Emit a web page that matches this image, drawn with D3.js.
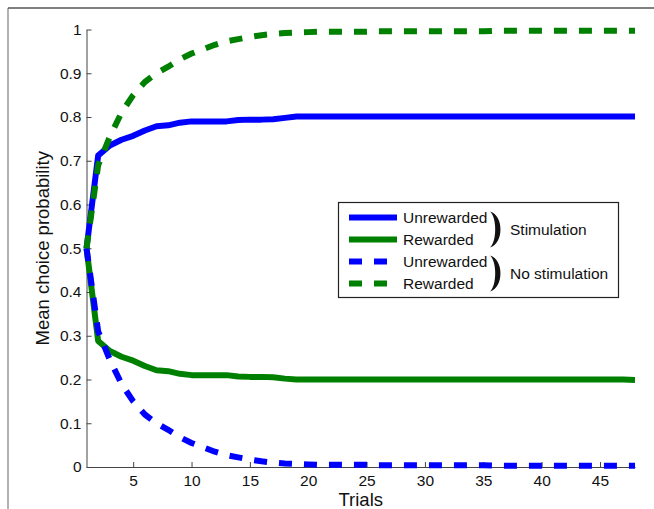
<!DOCTYPE html>
<html>
<head>
<meta charset="utf-8">
<script src="https://cdn.jsdelivr.net/npm/d3@7"></script>
<style>
	body { margin: 0; background: #fff; }
	text { font-family: "Liberation Sans", Arial, sans-serif; }
</style>
</head>
<body>
<div id="chart"></div>
<script>

	///////////////////////////////////////////////////////////////////////////
	//////////////////////////////// The data /////////////////////////////////
	///////////////////////////////////////////////////////////////////////////

	var trials = d3.range(1, 49);

	//Stimulation
	var stimUnrewarded = [0.5, 0.712, 0.735, 0.748, 0.757, 0.769, 0.779, 0.781, 0.787, 0.79,
		0.79, 0.79, 0.79, 0.793, 0.794, 0.794, 0.795, 0.798, 0.801, 0.801,
		0.801, 0.801, 0.801, 0.801, 0.801, 0.801, 0.801, 0.801, 0.801, 0.801,
		0.801, 0.801, 0.801, 0.801, 0.801, 0.801, 0.801, 0.801, 0.801, 0.801,
		0.801, 0.801, 0.801, 0.801, 0.801, 0.801, 0.801, 0.801];
	var stimRewarded = [0.5, 0.288, 0.265, 0.252, 0.243, 0.231, 0.221, 0.219, 0.213, 0.21,
		0.21, 0.21, 0.21, 0.207, 0.206, 0.206, 0.205, 0.202, 0.2, 0.2,
		0.2, 0.2, 0.2, 0.2, 0.2, 0.2, 0.2, 0.2, 0.2, 0.2,
		0.2, 0.2, 0.2, 0.2, 0.2, 0.2, 0.2, 0.2, 0.2, 0.2,
		0.2, 0.2, 0.2, 0.2, 0.2, 0.2, 0.2, 0.199];

	//No stimulation
	var noStimUnrewarded = [0.5, 0.31, 0.245, 0.19, 0.15, 0.12, 0.1, 0.085, 0.068, 0.055,
		0.045, 0.035, 0.027, 0.022, 0.017, 0.013, 0.01, 0.008, 0.007, 0.006,
		0.005, 0.005, 0.005, 0.005, 0.005, 0.004, 0.004, 0.004, 0.004, 0.004,
		0.004, 0.004, 0.004, 0.004, 0.004, 0.003, 0.003, 0.003, 0.003, 0.003,
		0.003, 0.003, 0.003, 0.003, 0.003, 0.003, 0.003, 0.003];
	var noStimRewarded = [0.5, 0.69, 0.755, 0.81, 0.85, 0.88, 0.9, 0.915, 0.932, 0.945,
		0.955, 0.965, 0.973, 0.978, 0.983, 0.987, 0.99, 0.992, 0.993, 0.994,
		0.995, 0.995, 0.995, 0.995, 0.995, 0.996, 0.996, 0.996, 0.996, 0.996,
		0.996, 0.996, 0.996, 0.996, 0.996, 0.997, 0.997, 0.997, 0.997, 0.997,
		0.997, 0.997, 0.997, 0.997, 0.997, 0.997, 0.997, 0.997];

	var xTicks = [5, 10, 15, 20, 25, 30, 35, 40, 45];
	var yTicks = [0, 0.1, 0.2, 0.3, 0.4, 0.5, 0.6, 0.7, 0.8, 0.9, 1];

	var series = [
		{ name: "Unrewarded", values: stimUnrewarded, colour: "#0000FF", dashed: false },
		{ name: "Rewarded", values: stimRewarded, colour: "#008000", dashed: false },
		{ name: "Unrewarded", values: noStimUnrewarded, colour: "#0000FF", dashed: true },
		{ name: "Rewarded", values: noStimRewarded, colour: "#008000", dashed: true }
	];
	var groups = ["Stimulation", "No stimulation"];

	///////////////////////////////////////////////////////////////////////////
	//////////////////// Set up and initiate svg container ////////////////////
	///////////////////////////////////////////////////////////////////////////

	var width = 654;
	var height = 509;

	var svg = d3.select("#chart")
		.append("svg")
		.attr("width", width)
		.attr("height", height);

	//Outer frame pieces (figure is cropped)
	svg.append("line")
		.attr("x1", 8).attr("y1", 8).attr("x2", 8).attr("y2", height)
		.style("stroke", "#999").style("stroke-width", 1.5);
	svg.append("line")
		.attr("x1", 8).attr("y1", 8).attr("x2", width).attr("y2", 8)
		.style("stroke", "#555").style("stroke-width", 1.5);

	var x = d3.scaleLinear().domain([1, 48]).range([86.5, 635]);
	var y = d3.scaleLinear().domain([0, 1]).range([467, 29.5]);

	///////////////////////////////////////////////////////////////////////////
	//////////////////////////////// The axes /////////////////////////////////
	///////////////////////////////////////////////////////////////////////////

	svg.append("g")
		.attr("transform", "translate(0," + y(0) + ")")
		.call(d3.axisBottom(x).tickValues(xTicks).tickSizeInner(-5).tickSizeOuter(0).tickPadding(8));

	svg.append("g")
		.attr("transform", "translate(" + x(1) + ",0)")
		.call(d3.axisLeft(y).tickValues(yTicks).tickSizeInner(-5).tickSizeOuter(0).tickPadding(5)
			.tickFormat(d3.format("~g")));

	svg.selectAll(".domain, .tick line").style("stroke", "#444");
	svg.selectAll(".tick text")
		.style("font-family", "'Liberation Sans', Arial, sans-serif")
		.style("font-size", "15.5px")
		.style("fill", "#111");

	svg.append("text")
		.attr("x", (x(1) + x(48)) / 2)
		.attr("y", 506)
		.style("text-anchor", "middle")
		.style("font-size", "18.5px")
		.style("fill", "#111")
		.text("Trials");

	svg.append("text")
		.attr("transform", "translate(49," + y(0.5) + ") rotate(-90)")
		.style("text-anchor", "middle")
		.style("font-size", "18.5px")
		.style("fill", "#111")
		.text("Mean choice probability");

	///////////////////////////////////////////////////////////////////////////
	//////////////////////////////// The lines ////////////////////////////////
	///////////////////////////////////////////////////////////////////////////

	var line = d3.line()
		.x(function(d, i) { return x(trials[i]); })
		.y(function(d) { return y(d); });

	svg.selectAll(".series")
		.data(series)
		.enter().append("path")
		.attr("class", "series")
		.attr("d", function(d) { return line(d.values); })
		.style("fill", "none")
		.style("stroke", function(d) { return d.colour; })
		.style("stroke-width", 6)
		.style("stroke-linejoin", "round")
		.style("stroke-dasharray", function(d) { return d.dashed ? "13,12" : null; });

	///////////////////////////////////////////////////////////////////////////
	//////////////////////////////// The legend ///////////////////////////////
	///////////////////////////////////////////////////////////////////////////

	var legend = svg.append("g").attr("class", "legend");

	legend.append("rect")
		.attr("x", 338.5).attr("y", 202.5)
		.attr("width", 280).attr("height", 95)
		.style("fill", "#fff")
		.style("stroke", "#222")
		.style("stroke-width", 1.2);

	var rowY = [217.5, 239.5, 261.5, 283.5];

	legend.selectAll(".legendLine")
		.data(series)
		.enter().append("line")
		.attr("x1", 349).attr("x2", 397)
		.attr("y1", function(d, i) { return rowY[i]; })
		.attr("y2", function(d, i) { return rowY[i]; })
		.style("stroke", function(d) { return d.colour; })
		.style("stroke-width", 6)
		.style("stroke-dasharray", function(d) { return d.dashed ? "13,12" : null; });

	legend.selectAll(".legendText")
		.data(series)
		.enter().append("text")
		.attr("x", 403)
		.attr("y", function(d, i) { return rowY[i] + 5.5; })
		.style("font-size", "15.5px")
		.style("fill", "#111")
		.text(function(d) { return d.name; });

	//Brackets
	groups.forEach(function(g, i) {
		var top = rowY[i * 2] - 6;
		var bot = rowY[i * 2 + 1] + 8;
		var mid = (top + bot) / 2;
		var bx = 490;
		legend.append("path")
			.attr("d", "M" + bx + "," + top +
				" C" + (bx + 14) + "," + (top + 4) + " " + (bx + 14) + "," + (bot - 4) + " " + bx + "," + bot +
				" C" + (bx + 7) + "," + (bot - 6) + " " + (bx + 7) + "," + (top + 6) + " " + bx + "," + top + "Z")
			.style("fill", "#111");

		legend.append("text")
			.attr("x", 510)
			.attr("y", mid + 5.5)
			.style("font-size", "15.5px")
			.style("fill", "#111")
			.text(g);
	});

</script>
</body>
</html>
